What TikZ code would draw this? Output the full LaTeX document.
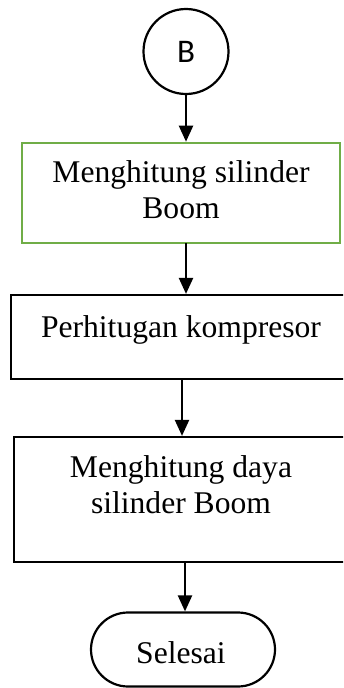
\documentclass[tikz,border=0pt]{standalone}
\usepackage{fontspec}
\setmainfont{Liberation Serif}
\newfontfamily\connfont{Carlito}
\usetikzlibrary{arrows.meta}
\definecolor{boxgreen}{HTML}{70AD47}
\tikzset{
  flow/.style={line width=2.2pt, -{Triangle[width=14pt,length=16pt]}},
  procbox/.style={draw, line width=2.2pt, rectangle, inner sep=0pt},
  greenbox/.style={procbox, draw=boxgreen, line width=2.6pt},
  connector/.style={draw, line width=2.2pt, circle, inner sep=0pt, minimum size=85pt,
    font=\connfont\fontsize{33}{35}\selectfont},
  terminal/.style={draw, line width=2.2pt, rectangle, rounded corners=37pt, inner sep=0pt,
    minimum width=184pt, minimum height=74pt},
  txt/.style={inner sep=0pt, align=center, font=\fontsize{31.6}{36}\selectfont}
}
\begin{document}
\begin{tikzpicture}[x=1pt, y=-1pt]
  \useasboundingbox (0,0) rectangle (343,688);
  \clip (0,0) rectangle (343,688);

  % start connector
  \node[connector] (conB) at (186,51.5) {B};

  % first process (green outline)
  \node[greenbox, minimum width=318pt, minimum height=100pt] (box1) at (181,193) {};
  \node[txt, anchor=base] (t1a) at (181,182) {Menghitung silinder};
  \node[txt, anchor=base] (t1b) at (181,218) {Boom};

  % second process
  \node[procbox, minimum width=340pt, minimum height=84pt] (box2) at (181,337) {};
  \node[txt, anchor=base] (t2) at (181,337) {Perhitugan kompresor};

  % third process
  \node[procbox, minimum width=338pt, minimum height=125pt] (box3) at (183,499.5) {};
  \node[txt, anchor=base] (t3a) at (181,477) {Menghitung daya};
  \node[txt, anchor=base] (t3b) at (181,513) {silinder Boom};

  % end terminal
  \node[terminal] (stop) at (183,649.5) {};
  \node[txt, anchor=base] (t4) at (181,663) {Selesai};

  % flow arrows
  \draw[flow] (conB.south) -- (conB.south |- box1.north);
  \draw[flow] (186,243) coordinate (a2s) -- (a2s |- box2.north);
  \draw[flow] (182,379) coordinate (a3s) -- (a3s |- box3.north);
  \draw[flow] (185,562) coordinate (a4s) -- (a4s |- stop.north);
\end{tikzpicture}
\end{document}
